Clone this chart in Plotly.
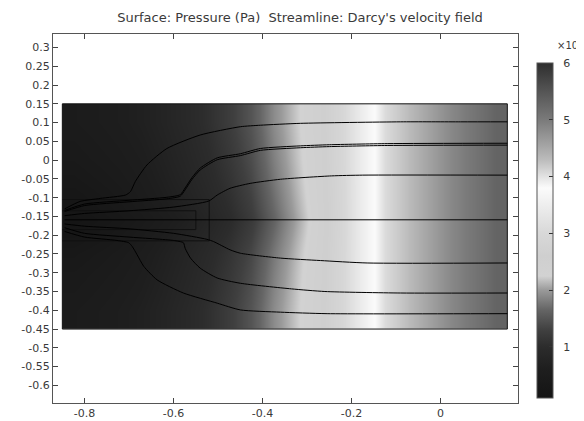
import plotly.graph_objects as go

# ---------------- data ----------------
# pressure surface (x 1e6 Pa), cell edges + values at cell centres
p_x_edges = [-0.85, -0.80, -0.75, -0.70, -0.65, -0.60, -0.55, -0.50, -0.45, -0.40, -0.35,
             -0.30, -0.25, -0.20, -0.15, -0.10, -0.05, 0.00, 0.05, 0.10, 0.15]
p_y_edges = [-0.45, -0.35, -0.25, -0.19, -0.13, -0.05, 0.05, 0.15]
p_far = [0.47, 0.52, 0.58, 0.66, 0.77, 0.90, 1.05, 1.25, 1.50, 1.90, 2.20,
         2.50, 2.90, 3.50, 4.05, 4.28, 4.57, 4.85, 5.07, 5.30]
p_mid = [0.38, 0.44, 0.50, 0.58, 0.70, 0.83, 0.98, 1.17, 1.42, 1.82, 2.16,
         2.48, 2.90, 3.50, 4.05, 4.28, 4.57, 4.85, 5.07, 5.30]
p_near = [0.25, 0.32, 0.40, 0.50, 0.62, 0.75, 0.90, 1.07, 1.32, 1.72, 2.10,
          2.45, 2.89, 3.50, 4.05, 4.28, 4.57, 4.85, 5.07, 5.30]
p_well = [0.15, 0.22, 0.30, 0.40, 0.52, 0.65, 0.80, 0.98, 1.22, 1.62, 2.03,
          2.42, 2.88, 3.50, 4.05, 4.28, 4.57, 4.85, 5.07, 5.30]
pressure = [p_far, p_mid, p_near, p_well, p_near, p_mid, p_far]

# colour bar range and ticks
c_min, c_max = 0.1, 6.0
cbar_ticks = [1, 2, 3, 4, 5, 6]

# grayscale version of the rainbow colour table
gray_stops = [0.0, 0.085, 0.153, 0.203, 0.263, 0.322, 0.364, 0.424, 0.492, 0.576,
              0.627, 0.661, 0.712, 0.831, 0.915, 1.0]
gray_levels = [20, 30, 44, 64, 101, 154, 210, 207, 216, 238, 251, 226, 187, 122, 85, 46]

# geometry
domain_x = [-0.85, 0.15, 0.15, -0.85, -0.85]
domain_y = [-0.45, -0.45, 0.15, 0.15, -0.45]
well_outer_x = [-0.85, -0.52, -0.52, -0.85]
well_outer_y = [-0.105, -0.105, -0.215, -0.215]
well_inner_x = [-0.85, -0.55, -0.55, -0.85]
well_inner_y = [-0.135, -0.135, -0.185, -0.185]

# streamlines of Darcy's velocity field
s1_x = [0.15, 0.045, -0.09, -0.315, -0.405, -0.45, -0.54, -0.615, -0.66, -0.686, -0.697, -0.708, -0.765, -0.81, -0.845]
s1_y = [0.102, 0.102, 0.102, 0.098, 0.093, 0.089, 0.067, 0.031, -0.013, -0.057, -0.084, -0.093, -0.102, -0.11, -0.13]
s2_x = [0.15, -0.12, -0.25, -0.315, -0.405, -0.45, -0.502, -0.54, -0.559, -0.574, -0.585, -0.615, -0.7, -0.8, -0.845]
s2_y = [0.045, 0.044, 0.041, 0.038, 0.031, 0.017, 0.006, -0.021, -0.047, -0.074, -0.092, -0.099, -0.107, -0.117, -0.134]
s3_x = [0.15, -0.12, -0.25, -0.315, -0.405, -0.45, -0.502, -0.54, -0.559, -0.574, -0.585, -0.615, -0.7, -0.8, -0.845]
s3_y = [0.040, 0.039, 0.036, 0.033, 0.026, 0.012, 0.001, -0.026, -0.052, -0.079, -0.096, -0.103, -0.111, -0.121, -0.137]
s4_x = [0.15, -0.175, -0.245, -0.36, -0.428, -0.473, -0.502, -0.521, -0.6, -0.7, -0.8, -0.845]
s4_y = [-0.04, -0.04, -0.042, -0.051, -0.062, -0.075, -0.093, -0.109, -0.125, -0.135, -0.142, -0.148]
s5_x = [0.15, -0.845]
s5_y = [-0.159, -0.159]
s6_x = [0.15, -0.165, -0.27, -0.36, -0.45, -0.473, -0.51, -0.525, -0.6, -0.7, -0.8, -0.845]
s6_y = [-0.274, -0.274, -0.2675, -0.261, -0.248, -0.239, -0.217, -0.211, -0.195, -0.183, -0.176, -0.17]
s7_x = [0.15, -0.09, -0.26, -0.335, -0.45, -0.502, -0.54, -0.562, -0.574, -0.578, -0.6, -0.7, -0.8, -0.845]
s7_y = [-0.354, -0.354, -0.35, -0.343, -0.328, -0.314, -0.288, -0.261, -0.235, -0.22, -0.214, -0.205, -0.195, -0.18]
s8_x = [0.15, -0.255, -0.36, -0.45, -0.502, -0.578, -0.637, -0.667, -0.682, -0.693, -0.701, -0.727, -0.8, -0.845]
s8_y = [-0.409, -0.409, -0.405, -0.399, -0.381, -0.354, -0.319, -0.283, -0.252, -0.23, -0.22, -0.214, -0.205, -0.19]
streamlines = [(s1_x, s1_y), (s2_x, s2_y), (s3_x, s3_y), (s4_x, s4_y),
               (s5_x, s5_y), (s6_x, s6_y), (s7_x, s7_y), (s8_x, s8_y)]

x_ticks = [-0.8, -0.6, -0.4, -0.2, 0]
x_tick_text = ["-0.8", "-0.6", "-0.4", "-0.2", "0"]
y_ticks = [0.3, 0.25, 0.2, 0.15, 0.1, 0.05, 0, -0.05, -0.1, -0.15, -0.2, -0.25, -0.3,
           -0.35, -0.4, -0.45, -0.5, -0.55, -0.6]
y_tick_text = ["0.3", "0.25", "0.2", "0.15", "0.1", "0.05", "0", "-0.05", "-0.1", "-0.15",
               "-0.2", "-0.25", "-0.3", "-0.35", "-0.4", "-0.45", "-0.5", "-0.55", "-0.6"]

title_text = "Surface: Pressure (Pa)  Streamline: Darcy's velocity field"

# ---------------- figure ----------------
W, H = 584, 421
OFF = 8            # default page margin of the html body
FONT = "DejaVu Sans"
TXT = "#3a3a3a"

# target positions on the visible page (pixels)
PL, PR, PT, PB = 53, 518, 34, 403
# colour bar on the visible page (pixels)
CB_L, CB_T, CB_B, CB_W = 537, 63, 398, 16
# figure-coordinate versions
fl, fr, ft, fb = PL - OFF, PR - OFF, PT - OFF, PB - OFF

colorscale = [[s, f"rgb({g},{g},{g})"] for s, g in zip(gray_stops, gray_levels)]

fig = go.Figure()
fig.add_trace(go.Heatmap(
    x=p_x_edges, y=p_y_edges, z=pressure, zsmooth="best",
    zmin=c_min, zmax=c_max, colorscale=colorscale, hoverinfo="skip",
    colorbar=dict(
        x=(CB_L - PL) / (PR - PL), xanchor="left", xpad=0,
        y=(PB - CB_T) / (PB - PT), yanchor="top", ypad=0,
        lenmode="pixels", len=CB_B - CB_T, thickness=CB_W,
        outlinewidth=1, outlinecolor="#555",
        tickvals=cbar_ticks, ticktext=["\u00a0\u00a0" + str(v) for v in cbar_ticks],
        ticks="inside", ticklen=4, tickcolor="#333",
        tickfont=dict(family=FONT, size=11, color=TXT),
    ),
))

for gx, gy in [(domain_x, domain_y), (well_outer_x, well_outer_y), (well_inner_x, well_inner_y)]:
    fig.add_trace(go.Scatter(x=gx, y=gy, mode="lines", line=dict(color="#111", width=1),
                             hoverinfo="skip", showlegend=False))

for sx, sy in streamlines:
    fig.add_trace(go.Scatter(x=sx, y=sy, mode="lines",
                             line=dict(color="#000", width=1, shape="spline", smoothing=0.6),
                             hoverinfo="skip", showlegend=False))

axis_common = dict(showgrid=False, zeroline=False, showline=True, linecolor="#555",
                   linewidth=1, mirror="allticks", ticks="inside", ticklen=5,
                   tickcolor="#444", tickfont=dict(family=FONT, size=11, color=TXT))

fig.update_layout(
    width=W, height=H,
    margin=dict(l=fl, r=W - fr, t=ft, b=H - fb, autoexpand=False),
    paper_bgcolor="white", plot_bgcolor="white",
    showlegend=False,
    title=dict(text=title_text, x=0.5, xanchor="center", y=1 - (17 - OFF) / H, yanchor="middle",
               font=dict(family=FONT, size=13, color=TXT)),
    xaxis=dict(range=[-0.871, 0.174], tickvals=x_ticks, ticktext=x_tick_text, **axis_common),
    yaxis=dict(range=[-0.647, 0.336], tickvals=y_ticks, ticktext=y_tick_text, **axis_common),
    annotations=[dict(text="×10<sup>6</sup>", xref="paper", yref="paper",
                      x=(555 - PL) / (PR - PL), y=(PB - 45) / (PB - PT),
                      xanchor="left", yanchor="middle", showarrow=False,
                      font=dict(family=FONT, size=10, color=TXT))],
)

fig.write_html("out.html")
